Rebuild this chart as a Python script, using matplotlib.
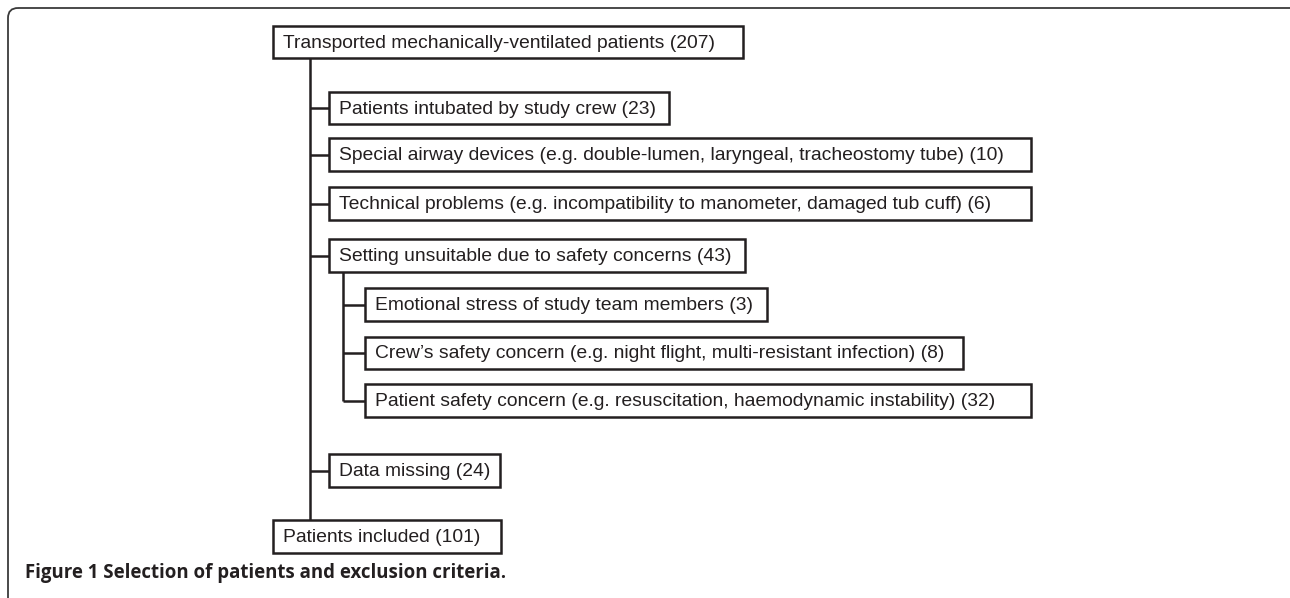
import matplotlib.pyplot as plt
from matplotlib.patches import Rectangle, FancyBboxPatch

# flowchart content
labels = [
    "Transported mechanically-ventilated patients (207)",
    "Patients intubated by study crew (23)",
    "Special airway devices (e.g. double-lumen, laryngeal, tracheostomy tube) (10)",
    "Technical problems (e.g. incompatibility to manometer, damaged tub cuff) (6)",
    "Setting unsuitable due to safety concerns (43)",
    "Emotional stress of study team members (3)",
    "Crew\u2019s safety concern (e.g. night flight, multi-resistant infection) (8)",
    "Patient safety concern (e.g. resuscitation, haemodynamic instability) (32)",
    "Data missing (24)",
    "Patients included (101)",
]
# level: 0 = main column, 1 = exclusion, 2 = sub-exclusion
levels = [0, 1, 1, 1, 1, 2, 2, 2, 1, 0]
caption = "Figure 1 Selection of patients and exclusion criteria."

# layout in pixels (x left per level, box top/bottom, right edge)
level_x = {0: 273, 1: 329, 2: 365}
spine_x = {1: 310, 2: 343}
tops = [26, 92, 138, 187, 239, 288, 337, 384, 454, 520]
bottoms = [58, 124, 171, 220, 272, 321, 369, 417, 487, 553]
rights = [743, 669, 1031, 1031, 745, 767, 963, 1031, 500, 501]

ink = "#231f20"
lw = 1.8

fig = plt.figure(figsize=(12.9, 5.98), dpi=100)
ax = fig.add_axes([0, 0, 1, 1])
ax.set_xlim(0, 1290)
ax.set_ylim(598, 0)
ax.axis("off")

# outer frame (only top and left visible)
frame = FancyBboxPatch((8, 8), 1300, 620, boxstyle="round,pad=0,rounding_size=10",
                       fill=False, ec="#3a3a3a", lw=1.3)
ax.add_patch(frame)

for i, lab in enumerate(labels):
    x0 = level_x[levels[i]]
    ax.add_patch(Rectangle((x0, tops[i]), rights[i] - x0, bottoms[i] - tops[i],
                           fill=False, ec=ink, lw=lw, zorder=3))
    ax.text(x0 + 10, (tops[i] + bottoms[i]) / 2 + 1, lab, fontsize=13.9,
            family="Liberation Sans", color=ink, va="center", ha="left")
    # connector from spine
    if levels[i] > 0:
        ym = (tops[i] + bottoms[i]) / 2
        ax.plot([spine_x[levels[i]], x0], [ym, ym], color=ink, lw=lw,
                solid_capstyle="butt")

# main spine
ax.plot([spine_x[1]] * 2, [bottoms[0], tops[-1]], color=ink, lw=lw, solid_capstyle="butt")
# sub spine under "Setting unsuitable"
sub = [i for i in range(len(labels)) if levels[i] == 2]
ax.plot([spine_x[2]] * 2, [bottoms[4], (tops[sub[-1]] + bottoms[sub[-1]]) / 2],
        color=ink, lw=lw, solid_capstyle="butt")

ax.text(25, 578, caption, fontsize=13.4, family="Open Sans", weight="bold",
        color=ink, va="baseline", ha="left")

fig.savefig("out.png", dpi=100)
